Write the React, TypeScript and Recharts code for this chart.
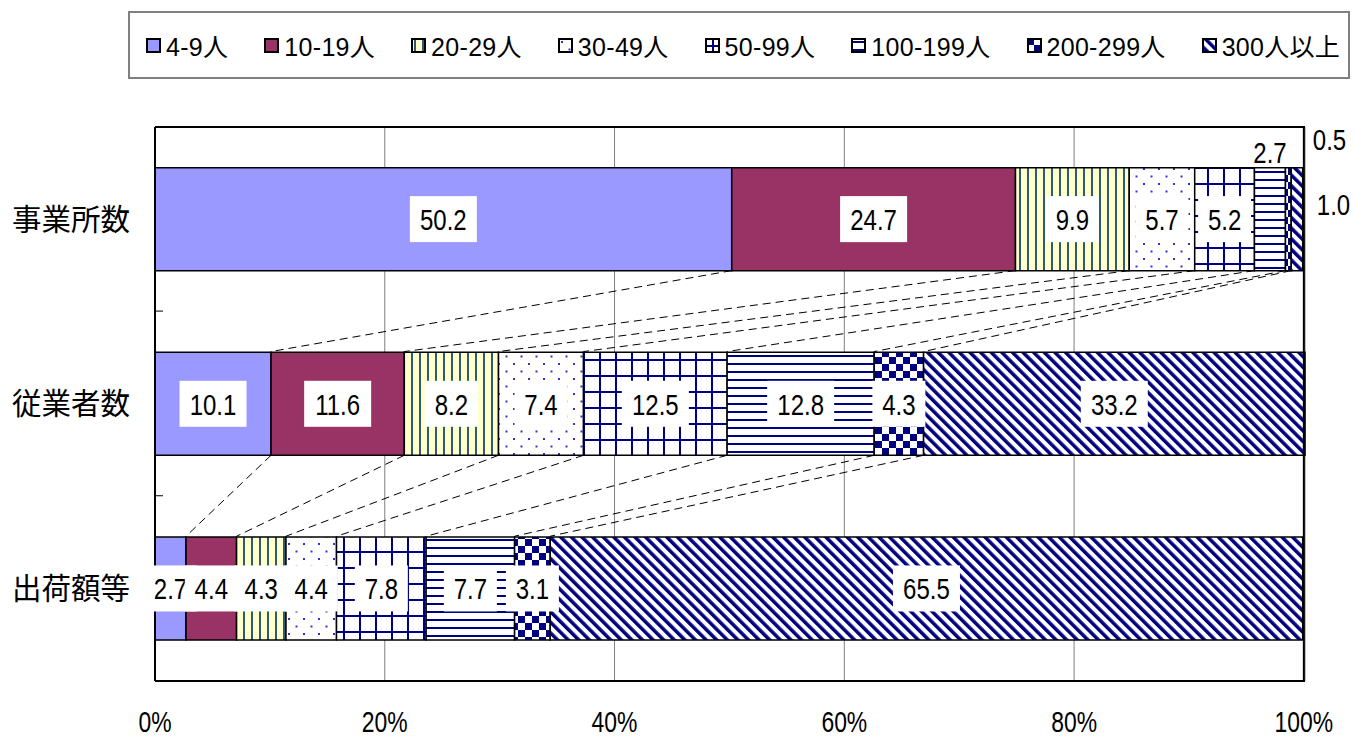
import React from "react"
import { BarChart, Bar, XAxis, YAxis, CartesianGrid, Legend, LabelList, ReferenceLine } from "recharts"

const categories = ["事業所数", "従業者数", "出荷額等"]
const sizeClasses = ["4-9人", "10-19人", "20-29人", "30-49人", "50-99人", "100-199人", "200-299人", "300人以上"]

// shares (%) per category, in the order of `categories`
const s4to9 = [50.2, 10.1, 2.7]
const s10to19 = [24.7, 11.6, 4.4]
const s20to29 = [9.9, 8.2, 4.3]
const s30to49 = [5.7, 7.4, 4.4]
const s50to99 = [5.2, 12.5, 7.8]
const s100to199 = [2.7, 12.8, 7.7]
const s200to299 = [0.5, 4.3, 3.1]
const s300plus = [1.0, 33.2, 65.5]

const xTicks = [0, 20, 40, 60, 80, 100]

const seriesValues = [s4to9, s10to19, s20to29, s30to49, s50to99, s100to199, s200to299, s300plus]
const fills = [
  "#9999FF",
  "#993366",
  "url(#pat-vert)",
  "url(#pat-dots)",
  "url(#pat-grid)",
  "url(#pat-horz)",
  "url(#pat-check)",
  "url(#pat-diag)",
]

const data = categories.map((name, i) => {
  const row: Record<string, any> = { name }
  sizeClasses.forEach((s, k) => {
    row[s] = seriesValues[k][i]
  })
  return row
})

// cumulative boundaries between segments, per category
const cumulative = categories.map((_, i) => {
  let acc = 0
  return seriesValues.slice(0, -1).map((vals) => {
    acc += vals[i]
    return acc
  })
})

const GAP = 0.22 // barCategoryGap as a fraction of the band

const NAVY = "#000080"
const NUM_FONT = "'Liberation Sans', Arial, sans-serif"
const JP_FONT = "'Noto Sans CJK JP', sans-serif"

function Patterns() {
  return (
    <defs>
      <pattern id="pat-vert" patternUnits="userSpaceOnUse" width="8" height="8">
        <rect width="8" height="8" fill="#FFFFCC" />
        <rect x="3" width="2" height="8" fill="#2F5A76" />
      </pattern>
      <pattern id="pat-dots" patternUnits="userSpaceOnUse" width="15" height="15">
        <rect width="15" height="15" fill="#fff" />
        <rect x="3" y="3" width="2" height="2" fill="#3333CC" />
        <rect x="10.5" y="10.5" width="2" height="2" fill="#3333CC" />
      </pattern>
      <pattern id="pat-grid" patternUnits="userSpaceOnUse" width="16" height="16">
        <rect width="16" height="16" fill="#fff" />
        <rect x="7" width="2" height="16" fill={NAVY} />
        <rect y="7" width="16" height="2" fill={NAVY} />
      </pattern>
      <pattern id="pat-horz" patternUnits="userSpaceOnUse" width="8" height="8">
        <rect width="8" height="8" fill="#fff" />
        <rect y="3" width="8" height="2" fill={NAVY} />
      </pattern>
      <pattern id="pat-check" patternUnits="userSpaceOnUse" width="14" height="14">
        <rect width="14" height="14" fill="#fff" />
        <rect width="7" height="7" fill={NAVY} />
        <rect x="7" y="7" width="7" height="7" fill={NAVY} />
      </pattern>
      <pattern id="pat-diag" patternUnits="userSpaceOnUse" width="7.5" height="7.5" patternTransform="rotate(-45)">
        <rect width="7.5" height="7.5" fill="#fff" />
        <rect x="0" width="3.5" height="7.5" fill={NAVY} />
      </pattern>
    </defs>
  )
}

function NumText({ x, y, text, anchor = "middle" }: { x: number; y: number; text: string; anchor?: string }) {
  return (
    <text
      transform={`translate(${x},${y}) scale(0.8,1)`}
      textAnchor={anchor as any}
      dy="0.36em"
      fontSize={30}
      fontFamily={NUM_FONT}
      fill="#000"
    >
      {text}
    </text>
  )
}

// dashed lines joining the segment boundaries of one bar to the next bar down,
// plus the small axis tick between categories; derived from the bar geometry
function connectors(k: number, props: any) {
  const { x, y, width, height, value, index } = props
  if (index > 1) return null
  const band = height / (1 - 2 * GAP)
  const ppu = width / value
  const x0 = x - (k > 0 ? cumulative[index][k - 1] : 0) * ppu
  return (
    <g>
      {k === 0 && <line x1={x0} x2={x0 + 8} y1={y + height + GAP * band} y2={y + height + GAP * band} stroke="#000" />}
      {k < cumulative[index].length && (
        <line
          x1={x + width}
          y1={y + height}
          x2={x0 + cumulative[index + 1][k] * ppu}
          y2={y + band}
          stroke="#000"
          strokeWidth={1}
          strokeDasharray="8 5"
        />
      )}
    </g>
  )
}

const makeLabel = (k: number) => (props: any) => {
  const { x, y, width, height, value, index } = props
  const text = Number(value).toFixed(1)
  const cx = x + width / 2
  const cy = y + height / 2
  const lines = connectors(k, props)
  if (index === 0 && k >= 5) {
    // small shares of 事業所数 are written outside the segment
    const ppu = width / value
    const plotRight = x - cumulative[0][k - 1] * ppu + 100 * ppu
    let label
    if (k === 5) label = <NumText x={cx} y={y - 15} text={text} />
    else if (k === 6) label = <NumText x={plotRight + 9} y={y - 28} text={text} anchor="start" />
    else label = <NumText x={plotRight + 13} y={cy - 15} text={text} anchor="start" />
    return (
      <g>
        {lines}
        {label}
      </g>
    )
  }
  const boxW = text.length * 14 + 11
  return (
    <g>
      {lines}
      <rect x={cx - boxW / 2} y={cy - 23} width={boxW} height={46} fill="#fff" />
      <NumText x={cx} y={cy} text={text} />
    </g>
  )
}

function XTick({ x, y, payload }: any) {
  return (
    <text
      transform={`translate(${x},${y + 49}) scale(0.79,1)`}
      textAnchor="middle"
      fontSize={29}
      fontFamily={NUM_FONT}
      fill="#000"
    >
      {payload.value}%
    </text>
  )
}

function LegendBox() {
  return (
    <div
      style={{
        boxSizing: "border-box",
        height: 68,
        border: "2px solid #808080",
        display: "flex",
        alignItems: "center",
        paddingLeft: 16,
        whiteSpace: "nowrap",
        fontFamily: `'Liberation Sans', ${JP_FONT}`,
        fontSize: 25,
        letterSpacing: 0.3,
        color: "#000",
      }}
    >
      {sizeClasses.map((s, k) => (
        <div key={s} style={{ display: "flex", alignItems: "center", marginRight: 36, flexShrink: 0 }}>
          <svg width={15} height={15} style={{ marginRight: 5, flexShrink: 0 }}>
            <rect x={1} y={1} width={13} height={13} fill={fills[k]} stroke="#000" strokeWidth={2} />
          </svg>
          <span>{s}</span>
        </div>
      ))}
    </div>
  )
}

export default function App() {
  return (
    <div style={{ width: 1353, height: 740 }}>
      <style>{"body{margin:0;overflow:hidden}"}</style>
      <BarChart
        width={1353}
        height={740}
        data={data}
        layout="vertical"
        barCategoryGap={`${GAP * 100}%`}
        margin={{ top: 59, right: 48, bottom: 0, left: 0 }}
      >
        <Patterns />
        <CartesianGrid horizontal={false} stroke="#808080" strokeWidth={1} />
        <XAxis
          type="number"
          domain={[0, 100]}
          ticks={xTicks}
          tick={<XTick />}
          tickLine={false}
          tickSize={0}
          height={59}
          axisLine={{ stroke: "#000", strokeWidth: 2 }}
        />
        <YAxis
          type="category"
          dataKey="name"
          width={155}
          tickLine={false}
          tickSize={0}
          tickMargin={25}
          axisLine={{ stroke: "#000", strokeWidth: 2 }}
          tick={{ fontSize: 29.5, fill: "#000", fontFamily: JP_FONT }}
        />
        <Legend verticalAlign="top" align="left" wrapperStyle={{ top: 11, left: 128, width: 1222 }} content={() => <LegendBox />} />
        {sizeClasses.map((s, k) => (
          <Bar key={s} dataKey={s} stackId="a" fill={fills[k]} stroke="#000" strokeWidth={1.5} isAnimationActive={false}>
            <LabelList dataKey={s} content={makeLabel(k)} />
          </Bar>
        ))}
        <ReferenceLine x={100} stroke="#000" strokeWidth={2} />
        <ReferenceLine y={categories[0]} position="start" stroke="#000" strokeWidth={2} />
      </BarChart>
    </div>
  )
}
